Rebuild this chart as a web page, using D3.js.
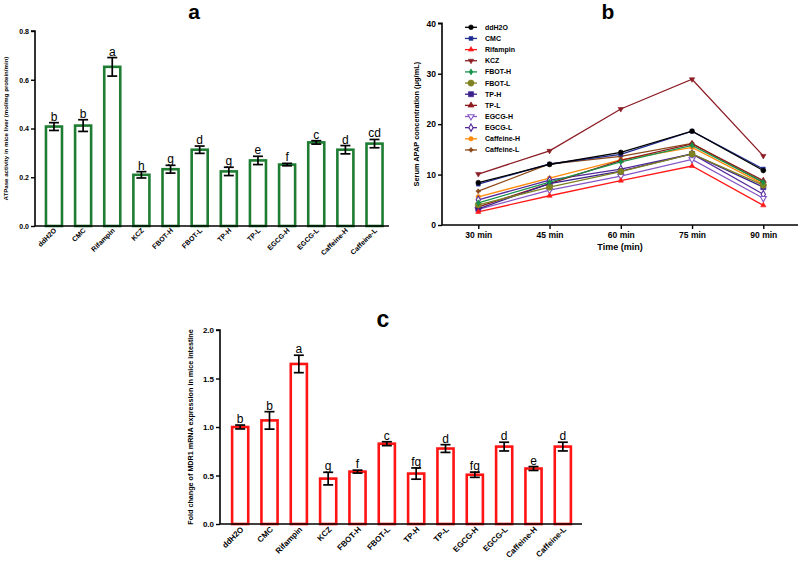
<!DOCTYPE html>
<html>
<head>
<meta charset="utf-8">
<script src="https://cdn.jsdelivr.net/npm/d3@7"></script>
<style>
  body { margin: 0; background: #fff; }
  svg { display: block; font-family: Arial, "Liberation Sans", sans-serif; }
  .bold { font-weight: bold; }
</style>
</head>
<body>
<svg id="chart" width="800" height="563"></svg>
<script>
// ---------- DATA ----------
const groups = ["ddH2O","CMC","Rifampin","KCZ","FBOT-H","FBOT-L","TP-H","TP-L","EGCG-H","EGCG-L","Caffeine-H","Caffeine-L"];

// Panel a: ATPase activity
const atpaseMean = [0.408, 0.412, 0.653, 0.210, 0.233, 0.313, 0.224, 0.269, 0.252, 0.343, 0.313, 0.338];
const atpaseErr  = [0.016, 0.024, 0.038, 0.013, 0.016, 0.015, 0.017, 0.017, 0.005, 0.007, 0.017, 0.017];
const atpaseSig  = ["b","b","a","h","g","d","g","e","f","c","d","cd"];
const atpaseTicks = [0, 0.2, 0.4, 0.6, 0.8];

// Panel b: serum APAP concentration
const timeLabels = ["30 min","45 min","60 min","75 min","90 min"];
const apapDdH2O     = [8.4, 12.0, 14.4, 18.6, 10.8];
const apapCMC       = [8.1, 12.1, 14.0, 18.6, 11.1];
const apapRifampin  = [2.6, 5.8, 8.8, 11.7, 3.9];
const apapKCZ       = [10.1, 14.7, 23.0, 28.9, 13.7];
const apapFBOTH     = [4.4, 8.5, 12.5, 15.8, 8.5];
const apapFBOTL     = [4.0, 7.5, 10.6, 14.1, 7.9];
const apapTPH       = [3.2, 8.2, 10.7, 14.1, 7.5];
const apapTPL       = [3.6, 8.2, 12.8, 16.1, 8.8];
const apapEGCGH     = [3.1, 6.9, 9.7, 13.0, 5.3];
const apapEGCGL     = [5.0, 8.9, 11.1, 14.1, 6.1];
const apapCaffeineH = [5.6, 9.3, 12.9, 15.4, 8.1];
const apapCaffeineL = [6.7, 12.1, 13.6, 16.2, 8.4];
const apapTicks = [0, 10, 20, 30, 40];

// Panel c: MDR1 mRNA fold change
const mdr1Mean = [1.000, 1.068, 1.650, 0.468, 0.540, 0.828, 0.520, 0.778, 0.508, 0.798, 0.572, 0.798];
const mdr1Err  = [0.020, 0.090, 0.090, 0.065, 0.015, 0.020, 0.058, 0.040, 0.027, 0.045, 0.020, 0.045];
const mdr1Sig  = ["b","b","a","g","f","c","fg","d","fg","d","e","d"];
const mdr1Ticks = [0, 0.5, 1.0, 1.5, 2.0];

// ---------- DRAW ----------
const svg = d3.select("#chart");

function barPanel(cfg) {
  const g = svg.append("g");
  const x = d3.scaleBand().domain(groups).range(cfg.xRange).paddingInner(cfg.pad).paddingOuter(cfg.pad / 2);
  const y = d3.scaleLinear().domain(cfg.yDomain).range(cfg.yRange);

  // bars
  g.selectAll("rect.bar").data(cfg.mean).join("rect")
    .attr("x", (d, i) => x(groups[i]))
    .attr("width", x.bandwidth())
    .attr("y", d => y(d))
    .attr("height", d => y(0) - y(d))
    .attr("fill", "#fff")
    .attr("stroke", cfg.color)
    .attr("stroke-width", 2.6);

  // error bars
  const cx = i => x(groups[i]) + x.bandwidth() / 2;
  const eg = g.append("g").attr("stroke", "#000").attr("stroke-width", 1.7);
  cfg.mean.forEach((m, i) => {
    const e = cfg.err[i];
    eg.append("line").attr("x1", cx(i)).attr("x2", cx(i)).attr("y1", y(m - e)).attr("y2", y(m + e));
    eg.append("line").attr("x1", cx(i) - 5).attr("x2", cx(i) + 5).attr("y1", y(m - e)).attr("y2", y(m - e));
    eg.append("line").attr("x1", cx(i) - 5).attr("x2", cx(i) + 5).attr("y1", y(m + e)).attr("y2", y(m + e));
  });

  // significance letters
  g.selectAll("text.sig").data(cfg.sig).join("text")
    .attr("x", (d, i) => cx(i))
    .attr("y", (d, i) => y(cfg.mean[i] + cfg.err[i]) - 2)
    .attr("text-anchor", "middle")
    .attr("font-size", 12)
    .text(d => d);

  // y axis
  const ya = g.append("g").attr("transform", `translate(${cfg.axisX},0)`)
    .call(d3.axisLeft(y).tickValues(cfg.ticks).tickFormat(d3.format(".1f")).tickSize(4).tickPadding(2));
  ya.select(".domain").attr("stroke-width", 1.6).attr("d", `M-4,${y(cfg.yDomain[1])}H0V${y(0)}`);
  ya.selectAll(".tick line").attr("stroke-width", 1.4);
  ya.selectAll("text").attr("font-size", cfg.tickFont).attr("font-weight", "bold").attr("font-family", "Arial, 'Liberation Sans', sans-serif");

  // x axis
  g.append("line").attr("x1", cfg.axisX).attr("x2", cfg.axisEnd).attr("y1", y(0)).attr("y2", y(0))
    .attr("stroke", "#000").attr("stroke-width", 1.6);
  g.selectAll("text.xl").data(groups).join("text")
    .attr("class", "bold")
    .attr("font-size", cfg.xFont)
    .attr("text-anchor", "end")
    .attr("transform", (d, i) => `translate(${cx(i) + cfg.xLabDx},${y(0) + cfg.xLabDy}) rotate(-45)`)
    .text(d => d);

  // y label
  g.append("text").attr("class", "bold").attr("font-size", cfg.yLabFont)
    .attr("text-anchor", "middle")
    .attr("transform", `translate(${cfg.yLabX},${(y(0) + y(cfg.yDomain[1])) / 2}) rotate(-90)`)
    .text(cfg.yLabel);

  // title
  g.append("text").attr("class", "bold").attr("font-size", cfg.titleSize).attr("text-anchor", "middle")
    .attr("x", cfg.titleX).attr("y", cfg.titleY).text(cfg.title);
}

// Panel a
barPanel({
  mean: atpaseMean, err: atpaseErr, sig: atpaseSig, ticks: atpaseTicks,
  xRange: [39.4, 389.1], pad: 0.45, yDomain: [0, 0.8], yRange: [226, 31],
  color: "#1e7d32", axisX: 35, axisEnd: 389, tickFont: 7, xFont: 7, xLabDx: 3, xLabDy: 5,
  yLabFont: 6.1, yLabX: 8, yLabel: "ATPase activity in mice liver (mol/mg protein/min)",
  title: "a", titleX: 194, titleY: 19.3, titleSize: 21
});

// Panel c
barPanel({
  mean: mdr1Mean, err: mdr1Err, sig: mdr1Sig, ticks: mdr1Ticks,
  xRange: [225.5, 577.5], pad: 0.45, yDomain: [0, 2], yRange: [524, 330],
  color: "#ff1414", axisX: 220, axisEnd: 582, tickFont: 8, xFont: 8, xLabDx: 4, xLabDy: 6,
  yLabFont: 7.2, yLabX: 193, yLabel: "Fold change of MDR1 mRNA expression in mice intestine",
  title: "c", titleX: 383, titleY: 327, titleSize: 23
});

// Panel b
(function () {
  const g = svg.append("g");
  const x = d3.scalePoint().domain(timeLabels).range([478.3, 763.3]);
  const y = d3.scaleLinear().domain([0, 40]).range([225, 23.3]);
  const axisX = 442;

  const series = [
    { name: "ddH2O",      values: apapDdH2O,     color: "#000000", sym: d3.symbolCircle,   size: 18, open: false },
    { name: "CMC",        values: apapCMC,       color: "#1f2c8f", sym: d3.symbolSquare,   size: 15, open: false },
    { name: "Rifampin",   values: apapRifampin,  color: "#ff1a1a", sym: d3.symbolTriangle, size: 12, open: false },
    { name: "KCZ",        values: apapKCZ,       color: "#8b1c24", sym: d3.symbolTriangle, size: 12, open: false, down: true },
    { name: "FBOT-H",     values: apapFBOTH,     color: "#17924a", sym: d3.symbolDiamond,  size: 11, open: false },
    { name: "FBOT-L",     values: apapFBOTL,     color: "#7f8220", sym: d3.symbolCircle,   size: 30, open: false },
    { name: "TP-H",       values: apapTPH,       color: "#3b1f8c", sym: d3.symbolSquare,   size: 26, open: false },
    { name: "TP-L",       values: apapTPL,       color: "#8e1a1e", sym: d3.symbolTriangle, size: 16, open: false },
    { name: "EGCG-H",     values: apapEGCGH,     color: "#8557c4", sym: d3.symbolTriangle, size: 16, open: true, down: true },
    { name: "EGCG-L",     values: apapEGCGL,     color: "#55299c", sym: d3.symbolDiamond,  size: 16, open: true },
    { name: "Caffeine-H", values: apapCaffeineH, color: "#ff8a0a", sym: d3.symbolCircle,   size: 16, open: false },
    { name: "Caffeine-L", values: apapCaffeineL, color: "#8c4a1a", sym: d3.symbolCross,    size: 10, open: false }
  ];

  const line = d3.line().x((d, i) => x(timeLabels[i])).y(d => y(d));
  const drawMarker = (sel, s) => {
    sel.attr("d", d3.symbol().type(s.sym).size(s.size)())
      .attr("fill", s.open ? "#fff" : s.color)
      .attr("stroke", s.color).attr("stroke-width", s.open ? 1.1 : 0.6);
  };

  // lines (first series drawn last so it sits on top)
  series.slice().reverse().forEach(s => {
    const sg = g.append("g");
    sg.append("path").datum(s.values).attr("d", line)
      .attr("fill", "none").attr("stroke", s.color).attr("stroke-width", 1.3);
    s.values.forEach((v, i) => {
      sg.append("path")
        .attr("transform", `translate(${x(timeLabels[i])},${y(v)})${s.down ? " rotate(180)" : ""}`)
        .call(drawMarker, s);
    });
  });

  // y axis
  const ya = g.append("g").attr("transform", `translate(${axisX},0)`)
    .call(d3.axisLeft(y).tickValues(apapTicks).tickSize(4).tickPadding(2));
  ya.select(".domain").attr("stroke-width", 1.6).attr("d", `M-4,${y(40)}H0V${y(0)}`);
  ya.selectAll(".tick line").attr("stroke-width", 1.4);
  ya.selectAll("text").attr("font-size", 8.5).attr("font-weight", "bold").attr("font-family", "Arial, 'Liberation Sans', sans-serif");

  // x axis
  const xa = g.append("g").attr("transform", `translate(0,${y(0)})`)
    .call(d3.axisBottom(x).tickSize(4).tickPadding(3));
  xa.select(".domain").attr("stroke-width", 1.6).attr("d", `M${axisX},0H798`);
  xa.selectAll(".tick line").attr("stroke-width", 1.4);
  xa.selectAll("text").attr("font-size", 8.5).attr("font-weight", "bold").attr("font-family", "Arial, 'Liberation Sans', sans-serif");

  // axis labels
  g.append("text").attr("class", "bold").attr("font-size", 9).attr("text-anchor", "middle")
    .attr("x", 620).attr("y", 250).text("Time (min)");
  g.append("text").attr("class", "bold").attr("font-size", 7.4).attr("text-anchor", "middle")
    .attr("transform", `translate(419,${(y(0) + y(40)) / 2}) rotate(-90)`)
    .text("Serum APAP concentration (μg/mL)");

  // title
  g.append("text").attr("class", "bold").attr("font-size", 21).attr("text-anchor", "middle")
    .attr("x", 608).attr("y", 19.3).text("b");

  // legend
  const lg = g.append("g");
  series.forEach((s, i) => {
    const ly = 27.3 + i * 11.15;
    const row = lg.append("g").attr("transform", `translate(0,${ly})`);
    row.append("line").attr("x1", 465).attr("x2", 477).attr("y1", 0).attr("y2", 0)
      .attr("stroke", s.color).attr("stroke-width", 1.3);
    row.append("path").attr("transform", `translate(471,0)${s.down ? " rotate(180)" : ""}`).call(drawMarker, s);
    row.append("text").attr("class", "bold").attr("font-size", 7).attr("x", 485).attr("y", 2.5).text(s.name);
  });
})();
</script>
</body>
</html>
